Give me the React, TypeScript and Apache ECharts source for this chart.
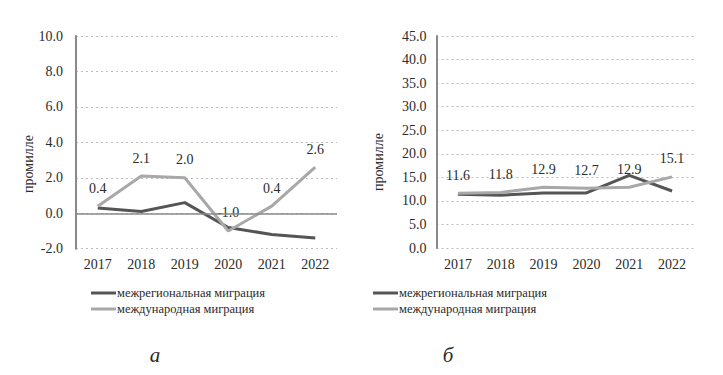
import React, { useEffect, useRef } from "react";
import * as echarts from "echarts";

const years = ["2017", "2018", "2019", "2020", "2021", "2022"];
const seriesNames = ["межрегиональная миграция", "международная миграция"];
// chart а
const interregionalA = [0.3, 0.1, 0.6, -0.8, -1.2, -1.4];
const internationalA = [0.4, 2.1, 2.0, -1.0, 0.4, 2.6];
// chart б
const interregionalB = [11.4, 11.2, 11.7, 11.7, 15.4, 12.1];
const internationalB = [11.6, 11.8, 12.9, 12.7, 12.9, 15.1];
const yName = "промилле";
const panelTitles = ["а", "б"];

const FONT = "'Liberation Serif', 'Times New Roman', serif";
const DARK = "#555555";
const LIGHT = "#a8a8a8";
const TEXT = "#2b2b2b";

export default function App() {
  const ref = useRef<HTMLDivElement>(null);
  useEffect(() => {
    if (!ref.current) return;
    const chart = echarts.init(ref.current, undefined, { renderer: "svg" });
    const yAxisCommon = (gridIndex: number, min: number, max: number, interval: number, margin: number) => ({
      type: "value" as const,
      gridIndex,
      min,
      max,
      interval,
      axisLine: { show: true, lineStyle: { color: "#8a8a8a", width: 2 } },
      axisTick: { show: false },
      axisLabel: {
        margin,
        color: TEXT,
        fontFamily: FONT,
        fontSize: 14,
        formatter: (v: number) => v.toFixed(1),
      },
      splitLine: { show: true, lineStyle: { color: "#bdbdbd", type: [2, 3] as any, width: 1 } },
    });
    const xAxisCommon = (gridIndex: number) => ({
      type: "category" as const,
      gridIndex,
      data: years,
      boundaryGap: true,
      axisLine: { show: false, onZero: false },
      axisTick: { show: false },
      axisLabel: { margin: 9, color: TEXT, fontFamily: FONT, fontSize: 14 },
      splitLine: { show: false },
    });
    const lineSeries = (name: string, data: number[], idx: number, color: string, withLabel: boolean, extra: any = {}) => ({
      type: "line" as const,
      name,
      data,
      xAxisIndex: idx,
      yAxisIndex: idx,
      symbol: "circle",
      symbolSize: 0,
      showSymbol: true,
      itemStyle: { color },
      lineStyle: { color, width: 3 },
      label: withLabel
        ? {
            show: true,
            position: "top",
            distance: 11,
            color: TEXT,
            fontFamily: FONT,
            fontSize: 14,
            formatter: (p: any) => Number(p.value).toFixed(1),
          }
        : { show: false },
      z: withLabel ? 3 : 2,
      ...extra,
    });
    const legendCommon = (left: number) => ({
      orient: "vertical" as const,
      left,
      top: 286,
      padding: 0,
      icon: "rect",
      itemWidth: 25,
      itemHeight: 3,
      itemGap: 2,
      selectedMode: false,
      data: seriesNames,
      textStyle: { color: TEXT, fontFamily: FONT, fontSize: 12.5, lineHeight: 14, padding: [0, 0, 0, -4] },
    });
    chart.setOption({
      animation: false,
      backgroundColor: "#ffffff",
      grid: [
        { left: 76, top: 36, width: 261, height: 212.7, containLabel: false },
        { left: 436.5, top: 36, width: 257, height: 212, containLabel: false },
      ],
      xAxis: [xAxisCommon(0), xAxisCommon(1)],
      yAxis: [yAxisCommon(0, -2, 10, 2, 13), yAxisCommon(1, 0, 45, 5, 10)],
      legend: [legendCommon(91), legendCommon(373)],
      series: [
        lineSeries(seriesNames[0], interregionalA, 0, DARK, false, {
          markLine: {
            silent: true,
            symbol: "none",
            label: { show: false },
            lineStyle: { color: "#8a8a8a", type: "solid", width: 1.5 },
            data: [{ yAxis: 0 }],
          },
        }),
        lineSeries(seriesNames[1], internationalA, 0, LIGHT, true),
        lineSeries(seriesNames[0], interregionalB, 1, DARK, false),
        lineSeries(seriesNames[1], internationalB, 1, LIGHT, true),
      ],
      graphic: [
        {
          type: "text",
          x: 28,
          y: 164,
          rotation: Math.PI / 2,
          style: { text: yName, fill: TEXT, font: `14px ${FONT}`, align: "center", verticalAlign: "middle" },
        },
        {
          type: "text",
          x: 378,
          y: 162,
          rotation: Math.PI / 2,
          style: { text: yName, fill: TEXT, font: `14px ${FONT}`, align: "center", verticalAlign: "middle" },
        },
        {
          type: "text",
          x: 155,
          y: 355,
          style: { text: panelTitles[0], fill: TEXT, font: `italic 21px ${FONT}`, align: "center", verticalAlign: "middle" },
        },
        {
          type: "text",
          x: 448,
          y: 355,
          style: { text: panelTitles[1], fill: TEXT, font: `italic 21px ${FONT}`, align: "center", verticalAlign: "middle" },
        },
      ],
    });
    return () => chart.dispose();
  }, []);
  return <div ref={ref} style={{ position: "absolute", left: 0, top: 0, width: 723, height: 375 }} />;
}
